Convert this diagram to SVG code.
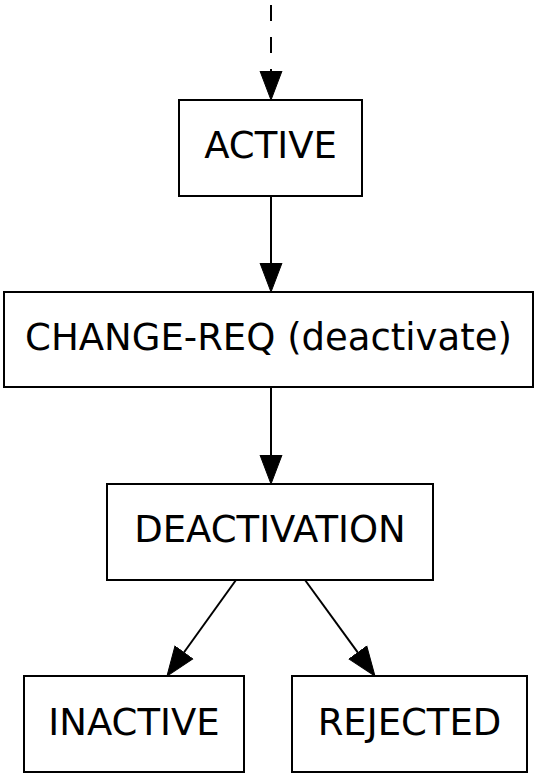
<svg xmlns="http://www.w3.org/2000/svg" width="537" height="774" viewBox="0 0 537 774">
  <style>
    .box { fill: #ffffff; stroke: #000000; stroke-width: 2; }
    .label { font-family: "DejaVu Sans", sans-serif; font-size: 37px; fill: #000000; text-anchor: middle; }
    .edge { fill: none; stroke: #000000; stroke-width: 2; }
    .dashed { stroke-dasharray: 16 16; }
  </style>
  <defs>
    <marker id="arrow" markerUnits="userSpaceOnUse" markerWidth="31" markerHeight="24" viewBox="0 0 31 24" refX="0.5" refY="12" orient="auto">
      <path d="M0.5,1 L29.5,12 L0.5,23 Z" fill="#000000" stroke="#000000" stroke-width="1"/>
    </marker>
  </defs>

  <rect width="537" height="774" fill="#ffffff"/>

  <g id="connectors">
    <line class="edge dashed" x1="271" y1="5" x2="271" y2="71" marker-end="url(#arrow)"/>
    <line class="edge" x1="271" y1="196" x2="271" y2="263" marker-end="url(#arrow)"/>
    <line class="edge" x1="271" y1="387" x2="271" y2="455" marker-end="url(#arrow)"/>
    <line class="edge" x1="236" y1="580" x2="183.9" y2="652.5" marker-end="url(#arrow)"/>
    <line class="edge" x1="305" y1="580" x2="357.9" y2="652.6" marker-end="url(#arrow)"/>
  </g>

  <g id="active">
    <rect class="box" x="179" y="100" width="183" height="96"/>
    <text class="label" x="270.5" y="158">ACTIVE</text>
  </g>

  <g id="change-req">
    <rect class="box" x="4" y="292" width="529" height="95"/>
    <text class="label" x="268.5" y="350">CHANGE-REQ (deactivate)</text>
  </g>

  <g id="deactivation">
    <rect class="box" x="107" y="484" width="326" height="96"/>
    <text class="label" x="270" y="542">DEACTIVATION</text>
  </g>

  <g id="inactive">
    <rect class="box" x="24" y="676" width="220" height="96"/>
    <text class="label" x="134" y="735">INACTIVE</text>
  </g>

  <g id="rejected">
    <rect class="box" x="292" y="676" width="235" height="96"/>
    <text class="label" x="409.5" y="735">REJECTED</text>
  </g>
</svg>
